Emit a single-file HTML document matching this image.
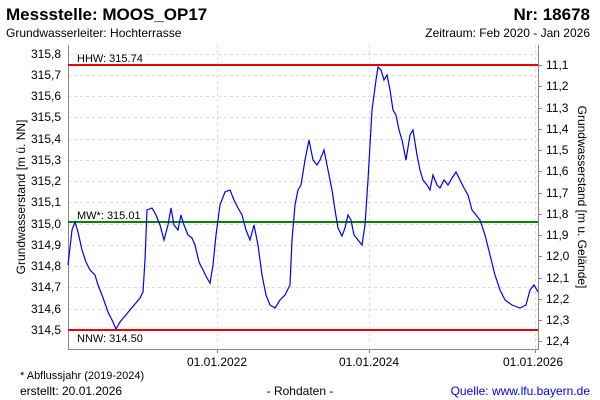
<!DOCTYPE html>
<html><head><meta charset="utf-8"><style>
body{margin:0;background:#fff}
svg{display:block;font-family:"Liberation Sans",sans-serif}
</style></head><body>
<svg width="600" height="400" viewBox="0 0 600 400">
<rect width="600" height="400" fill="#fff"/>
<text x="6" y="20" font-size="17" font-weight="bold">Messstelle: MOOS_OP17</text>
<text x="590" y="20" font-size="17" font-weight="bold" text-anchor="end">Nr: 18678</text>
<text x="6" y="37" font-size="12">Grundwasserleiter:  Hochterrasse</text>
<text x="590" y="37" font-size="12" text-anchor="end">Zeitraum: Feb 2020 - Jan 2026</text>
<g stroke="#ddd" stroke-dasharray="3,3" stroke-width="1">
<line x1="68" x2="538" y1="54.5" y2="54.5"/><line x1="68" x2="538" y1="75.5" y2="75.5"/><line x1="68" x2="538" y1="96.5" y2="96.5"/><line x1="68" x2="538" y1="117.5" y2="117.5"/><line x1="68" x2="538" y1="139.5" y2="139.5"/><line x1="68" x2="538" y1="160.5" y2="160.5"/><line x1="68" x2="538" y1="181.5" y2="181.5"/><line x1="68" x2="538" y1="202.5" y2="202.5"/><line x1="68" x2="538" y1="224.5" y2="224.5"/><line x1="68" x2="538" y1="245.5" y2="245.5"/><line x1="68" x2="538" y1="266.5" y2="266.5"/><line x1="68" x2="538" y1="287.5" y2="287.5"/><line x1="68" x2="538" y1="309.5" y2="309.5"/>
<line x1="217.5" x2="217.5" y1="45" y2="349"/><line x1="369.5" x2="369.5" y1="45" y2="349"/><line x1="535.5" x2="535.5" y1="45" y2="349"/>
</g>
<g stroke="#888" fill="none"><path d="M68.5 45V349.5H538.5V45"/>
<path d="M217.5 349v4M369.5 349v4M535.5 349v4"/>
<path d="M538 65.5h4M538 86.5h4M538 108.5h4M538 129.5h4M538 150.5h4M538 171.5h4M538 193.5h4M538 214.5h4M538 235.5h4M538 256.5h4M538 278.5h4M538 299.5h4M538 320.5h4M538 341.5h4"/></g>
<g font-size="12" text-anchor="end">
<text x="61" y="58">315,8</text><text x="61" y="79">315,7</text><text x="61" y="100">315,6</text><text x="61" y="121">315,5</text><text x="61" y="143">315,4</text><text x="61" y="164">315,3</text><text x="61" y="185">315,2</text><text x="61" y="206">315,1</text><text x="61" y="228">315,0</text><text x="61" y="249">314,9</text><text x="61" y="270">314,8</text><text x="61" y="291">314,7</text><text x="61" y="313">314,6</text><text x="61" y="334">314,5</text>
</g>
<g font-size="12">
<text x="546" y="69">11,1</text><text x="546" y="90">11,2</text><text x="546" y="112">11,3</text><text x="546" y="133">11,4</text><text x="546" y="154">11,5</text><text x="546" y="175">11,6</text><text x="546" y="197">11,7</text><text x="546" y="218">11,8</text><text x="546" y="239">11,9</text><text x="546" y="260">12,0</text><text x="546" y="282">12,1</text><text x="546" y="303">12,2</text><text x="546" y="324">12,3</text><text x="546" y="345">12,4</text>
</g>
<g font-size="12" text-anchor="middle"><text x="217" y="366">01.01.2022</text><text x="369" y="366">01.01.2024</text><text x="533" y="366">01.01.2026</text></g>
<text transform="translate(25,197) rotate(-90)" font-size="12" text-anchor="middle">Grundwasserstand [m ü. NN]</text>
<text transform="translate(578,197) rotate(90)" font-size="12" text-anchor="middle">Grundwasserstand [m u. Gelände]</text>
<line x1="68" x2="538" y1="65" y2="65" stroke="#e00" stroke-width="2"/>
<line x1="68" x2="538" y1="330" y2="330" stroke="#e00" stroke-width="2"/>
<line x1="68" x2="538" y1="222" y2="222" stroke="#080" stroke-width="2"/>
<g font-size="11"><text x="77" y="62">HHW: 315.74</text><text x="77" y="219">MW*: 315.01</text><text x="77" y="342">NNW: 314.50</text></g>
<polyline fill="none" stroke="#00f" stroke-width="1.2" points="68,265 72,230 75,222 78,232 82,250 86,262 90,270 95,275 98,285 102,295 108,312 113,322 116,329 120,322 130,310 140,298 143,292 145,260 147,210 152,208 156,215 160,225 164,240 168,225 171,208 174,225 178,230 181,215 184,225 188,235 192,238 195,245 199,262 203,270 207,278 210,283 213,265 216,235 220,205 225,192 230,190 234,200 238,208 242,215 246,230 250,240 254,225 258,245 262,275 266,295 270,305 275,308 280,300 285,295 290,285 292,240 295,205 298,190 301,185 305,160 309,140 313,160 317,165 320,160 324,150 328,170 332,190 335,210 338,228 342,236 345,228 348,215 351,220 354,235 358,240 362,245 365,225 368,180 372,110 376,80 378,67 381,70 384,80 387,75 390,90 393,110 396,115 399,130 402,140 406,160 410,135 413,130 417,155 420,170 423,180 427,185 430,190 433,175 437,185 440,188 444,180 448,185 452,178 456,172 460,180 464,188 468,195 472,210 476,215 480,220 485,235 490,255 495,275 500,290 505,300 512,305 520,308 526,305 530,290 534,285 538,292"/>
<text x="20" y="379" font-size="11">* Abflussjahr (2019-2024)</text>
<text x="20" y="395" font-size="12">erstellt:  20.01.2026</text>
<text x="300" y="395" font-size="12" text-anchor="middle">- Rohdaten -</text>
<text x="590" y="395" font-size="12" text-anchor="end" fill="#00f">Quelle: www.lfu.bayern.de</text>
</svg>
</body></html>
